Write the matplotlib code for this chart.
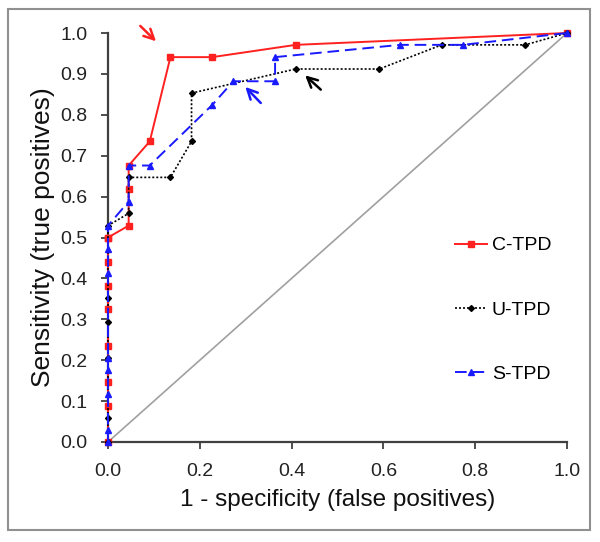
import matplotlib
matplotlib.use("Agg")
import matplotlib.pyplot as plt
from matplotlib.patches import Rectangle

plt.rcParams["font.family"] = ["Liberation Sans", "DejaVu Sans"]

# ROC points
c_fpr = [0.0, 0.0, 0.0, 0.0, 0.0, 0.0, 0.0, 0.0, 0.0, 0.045, 0.045, 0.045, 0.091, 0.136, 0.227, 0.409, 1.0]
c_tpr = [0.0, 0.088, 0.147, 0.235, 0.324, 0.382, 0.441, 0.5, 0.5, 0.529, 0.618, 0.676, 0.735, 0.941, 0.941, 0.971, 1.0]

u_fpr = [0.0, 0.0, 0.0, 0.0, 0.0, 0.0, 0.045, 0.045, 0.136, 0.182, 0.182, 0.409, 0.591, 0.727, 0.909, 1.0]
u_tpr = [0.0, 0.059, 0.206, 0.294, 0.353, 0.529, 0.559, 0.647, 0.647, 0.735, 0.853, 0.912, 0.912, 0.971, 0.971, 1.0]

s_fpr = [0.0, 0.0, 0.0, 0.0, 0.0, 0.0, 0.0, 0.0, 0.045, 0.045, 0.091, 0.227, 0.273, 0.364, 0.364, 0.636, 0.773, 1.0]
s_tpr = [0.0, 0.029, 0.118, 0.176, 0.206, 0.412, 0.471, 0.529, 0.588, 0.676, 0.676, 0.824, 0.882, 0.882, 0.941, 0.971, 0.971, 1.0]

ticks = [0.0, 0.1, 0.2, 0.3, 0.4, 0.5, 0.6, 0.7, 0.8, 0.9, 1.0]
xticks = [0.0, 0.2, 0.4, 0.6, 0.8, 1.0]

fig = plt.figure(figsize=(6, 5.42), dpi=100)
ax = fig.add_axes([108 / 600, 1 - 442 / 542, 459 / 600, 409 / 542])

# outer frame
fig.patches.append(Rectangle((8 / 600, 1 - 530 / 542), 582 / 600, 521 / 542,
                             transform=fig.transFigure, fill=False,
                             edgecolor="#909090", linewidth=1.5))

ax.plot([0, 1], [0, 1], color="#a0a0a0", lw=1.2, zorder=1)
ax.plot(c_fpr, c_tpr, color="#ff2020", lw=1.4, marker="s", ms=5,
        label="C-TPD", clip_on=False, zorder=3)
ax.plot(u_fpr, u_tpr, color="black", lw=1.2, ls=(0, (1.2, 1.2)), marker="D", ms=3,
        label="U-TPD", clip_on=False, zorder=4)
ax.plot(s_fpr, s_tpr, color="#1a1aff", lw=1.4, ls=(0, (6, 3)), marker="^", ms=5,
        label="S-TPD", clip_on=False, zorder=5)

# arrows
ax.annotate("", xy=(0.109, 0.975), xytext=(0.066, 1.022), annotation_clip=False,
            arrowprops=dict(arrowstyle="->", color="#ff2020", lw=1.8, mutation_scale=18))
ax.annotate("", xy=(0.295, 0.873), xytext=(0.337, 0.824), annotation_clip=False,
            arrowprops=dict(arrowstyle="->", color="#1a1aff", lw=1.8, mutation_scale=18))
ax.annotate("", xy=(0.425, 0.901), xytext=(0.468, 0.857), annotation_clip=False,
            arrowprops=dict(arrowstyle="->", color="black", lw=1.8, mutation_scale=18))

ax.set_xlim(0, 1)
ax.set_ylim(0, 1)
ax.set_xticks(xticks)
ax.set_yticks(ticks)
ax.set_xticklabels(["%.1f" % t for t in xticks])
ax.set_yticklabels(["%.1f" % t for t in ticks])
ax.tick_params(direction="out", length=5, width=1.3, color="#404040",
               labelsize=14, pad=10, labelcolor="#222222")
for side in ["top", "right"]:
    ax.spines[side].set_visible(False)
for side in ["left", "bottom"]:
    ax.spines[side].set_color("#404040")
    ax.spines[side].set_linewidth(1.6)

ax.set_xlabel("1 - specificity (false positives)", fontsize=17.5, color="#111111")
ax.set_ylabel("Sensitivity (true positives)", fontsize=19, color="#111111")
ax.xaxis.set_label_coords(0.5, -0.115)
ax.yaxis.set_label_coords(-0.115, 0.5)

ax.legend(loc="center left", bbox_to_anchor=(0.756, 0.323), frameon=False,
          fontsize=14, labelspacing=2.4, handlelength=1.65, handletextpad=0.25,
          borderpad=0, borderaxespad=0)

fig.savefig("out.png", dpi=100)
